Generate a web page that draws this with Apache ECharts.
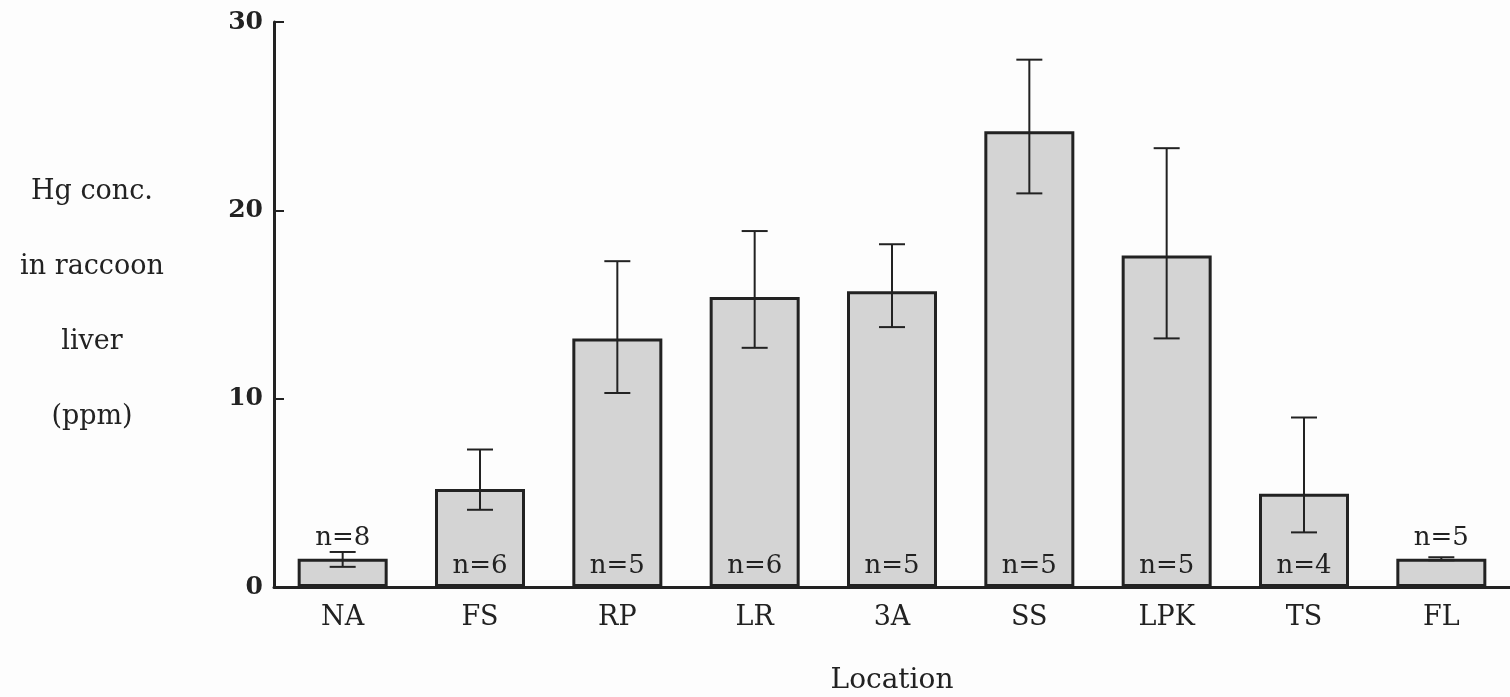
<!DOCTYPE html>
<html>
<head>
<meta charset="utf-8">
<script src="https://cdn.jsdelivr.net/npm/echarts@6/dist/echarts.min.js"></script>
<style>
html, body { margin: 0; padding: 0; background: #fdfdfd; }
#chart { width: 1510px; height: 697px; }
</style>
</head>
<body>
<div id="chart"></div>
<script>
// data
var locations = ['NA', 'FS', 'RP', 'LR', '3A', 'SS', 'LPK', 'TS', 'FL'];
var meanHg = [1.5, 5.2, 13.2, 15.4, 15.7, 24.2, 17.6, 4.95, 1.5];
var errLow = [1.07, 4.1, 10.3, 12.7, 13.8, 20.9, 13.2, 2.9, 1.42];
var errHigh = [1.86, 7.3, 17.3, 18.9, 18.2, 28.0, 23.3, 9.0, 1.58];
var sampleN = [8, 6, 5, 6, 5, 5, 5, 4, 5];
var yTicks = [0, 10, 20, 30];

var serif = 'DejaVu Serif';
var ink = '#222';

var chart = echarts.init(document.getElementById('chart'));

// short bars get their n= label above the bar
var barData = meanHg.map(function(v, i) {
    return {
        value: v,
        label: v < 3 ? { position: 'top', distance: 8 } : { position: 'insideBottom', distance: 8 }
    };
});

var errData = errLow.map(function(lo, i) {
    return [i, lo, errHigh[i]];
});

function renderErr(params, api) {
    var x = api.value(0);
    var top = api.coord([x, api.value(2)]);
    var bot = api.coord([x, api.value(1)]);
    var half = 13;
    var style = { stroke: ink, lineWidth: 2 };
    return {
        type: 'group',
        children: [
            { type: 'line', shape: { x1: top[0], y1: top[1], x2: bot[0], y2: bot[1] }, style: style },
            { type: 'line', shape: { x1: top[0] - half, y1: top[1], x2: top[0] + half, y2: top[1] }, style: style },
            { type: 'line', shape: { x1: bot[0] - half, y1: bot[1], x2: bot[0] + half, y2: bot[1] }, style: style }
        ]
    };
}

var option = {
    backgroundColor: '#fdfdfd',
    animation: false,
    grid: { left: 274, right: 0, top: 22, bottom: 110, outerBoundsMode: 'none', containLabel: false },
    xAxis: {
        type: 'category',
        data: locations,
        name: 'Location',
        nameLocation: 'middle',
        nameGap: 80,
        nameTextStyle: { fontFamily: serif, fontSize: 28, color: ink },
        axisLine: { lineStyle: { color: ink, width: 3 } },
        axisTick: { show: false },
        axisLabel: { fontFamily: serif, fontSize: 27, color: ink, margin: 17 }
    },
    yAxis: {
        type: 'value',
        min: yTicks[0],
        max: yTicks[yTicks.length - 1],
        interval: 10,
        name: 'Hg conc.\nin raccoon\nliver\n(ppm)',
        nameLocation: 'middle',
        nameRotate: 0,
        nameGap: 182,
        nameTextStyle: { fontFamily: serif, fontSize: 27, color: ink, align: 'center', lineHeight: 75 },
        axisLine: { show: true, lineStyle: { color: ink, width: 3 } },
        axisTick: { show: true, inside: true, length: 10, lineStyle: { color: ink, width: 2 } },
        axisLabel: { fontFamily: serif, fontSize: 25, fontWeight: 'bold', color: ink, margin: 11 },
        splitLine: { show: false }
    },
    series: [
        {
            type: 'bar',
            data: barData,
            barWidth: 90,
            itemStyle: { color: '#d4d4d4', borderColor: ink, borderWidth: 3 },
            label: {
                show: true,
                fontFamily: serif,
                fontSize: 26,
                color: ink,
                formatter: function(p) { return 'n=' + sampleN[p.dataIndex]; }
            }
        },
        {
            type: 'custom',
            data: errData,
            encode: { x: 0, y: [1, 2] },
            renderItem: renderErr,
            z: 5
        }
    ]
};
chart.setOption(option);
</script>
</body>
</html>
